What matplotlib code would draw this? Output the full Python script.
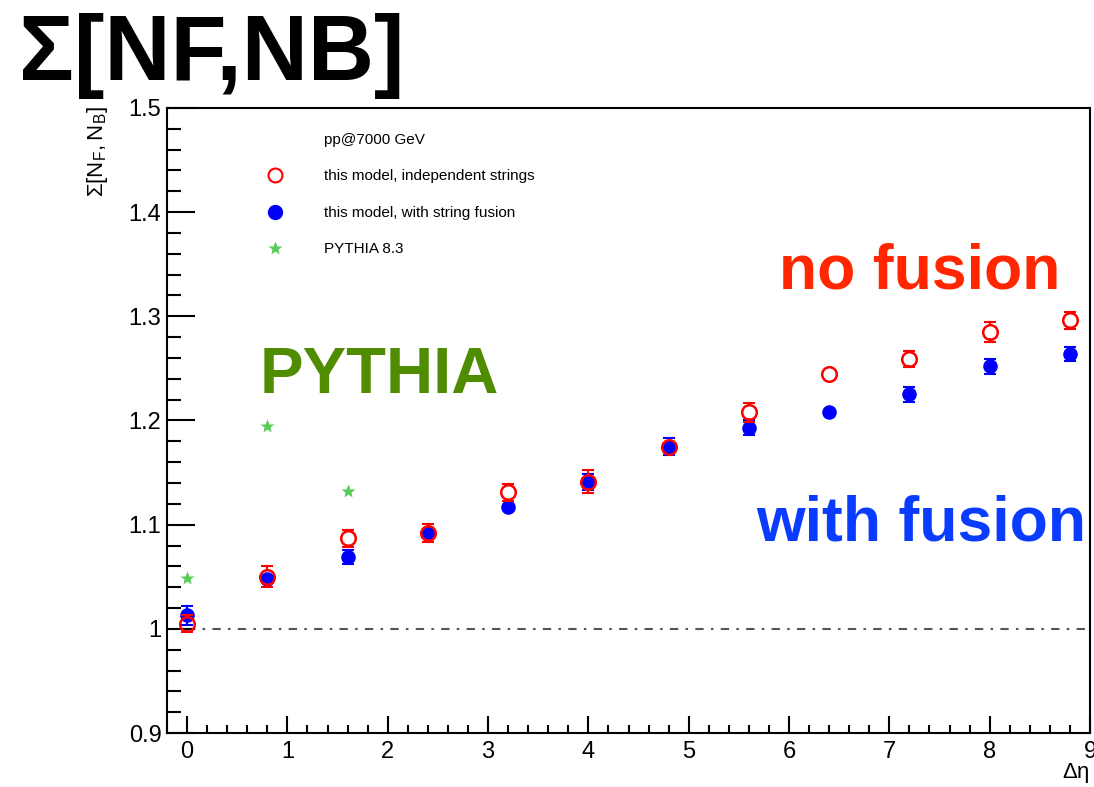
import matplotlib as mpl
mpl.use('Agg')
import matplotlib.pyplot as plt
from matplotlib.lines import Line2D
from matplotlib.ticker import MultipleLocator

plt.rcParams['font.family'] = ['Liberation Sans', 'DejaVu Sans']
plt.rcParams['mathtext.default'] = 'regular'

# data
deta = [0.0, 0.8, 1.6, 2.4, 3.2, 4.0, 4.8, 5.6, 6.4, 7.2, 8.0, 8.8]
indep = [1.005, 1.050, 1.087, 1.092, 1.131, 1.141, 1.175, 1.208, 1.245, 1.259, 1.285, 1.296]
indep_err = [0.008, 0.010, 0.008, 0.009, 0.008, 0.011, 0.006, 0.009, 0.004, 0.008, 0.010, 0.008]
fusion = [1.013, 1.048, 1.069, 1.092, 1.117, 1.141, 1.175, 1.193, 1.208, 1.225, 1.252, 1.264]
fusion_err = [0.009, 0.006, 0.007, 0.006, 0.006, 0.008, 0.008, 0.007, 0.004, 0.007, 0.007, 0.007]
pythia_x = [0.0, 0.8, 1.6]
pythia = [1.049, 1.195, 1.132]

W, H, DPI = 10.94, 7.87, 100
MS = 10.5  # marker size in points

fig = plt.figure(figsize=(W, H), dpi=DPI)
ax_box = [0.1527, 0.0686, 0.9963 - 0.1527, 0.8628 - 0.0686]
ax = fig.add_axes(ax_box)
ylo, yhi = 0.9, 1.5


def marker_gap_errorbars(x, y, err, color, zorder):
    # ROOT style: error bar only outside the marker
    px_per_unit = ax_box[3] * H * DPI / (yhi - ylo)
    r = (MS / 2) * DPI / 72 / px_per_unit
    for xi, yi, ei in zip(x, y, err):
        if ei <= r:
            continue
        ax.plot([xi, xi], [yi + r, yi + ei], color=color, lw=1.5, zorder=zorder)
        ax.plot([xi, xi], [yi - ei, yi - r], color=color, lw=1.5, zorder=zorder)
        ax.plot([xi, xi], [yi + ei, yi - ei], ls='none', marker='_', ms=8,
                mew=1.5, color=color, zorder=zorder)


# reference line at 1
ax.plot([0, 9], [1, 1], color='#555555', lw=1.5, ls=(0, (4, 3.5, 1.2, 3.5)), zorder=1)

marker_gap_errorbars(deta, fusion, fusion_err, 'blue', 3)
ax.plot(deta, fusion, 'o', color='blue', ms=MS, mec='none', zorder=3)
marker_gap_errorbars(deta, indep, indep_err, 'red', 4)
ax.plot(deta, indep, 'o', mfc='none', mec='red', mew=1.8, ms=MS, zorder=4)
ax.plot(pythia_x, pythia, '*', color='#55cc55', ms=10, mec='none', zorder=3)

ax.set_xlim(-0.2, 9)
ax.set_ylim(ylo, yhi)
ax.xaxis.set_major_locator(MultipleLocator(1))
ax.xaxis.set_minor_locator(MultipleLocator(0.2))
ax.yaxis.set_minor_locator(MultipleLocator(0.02))
ax.set_yticks([0.9, 1.0, 1.1, 1.2, 1.3, 1.4, 1.5])
ax.set_yticklabels(['0.9', '1', '1.1', '1.2', '1.3', '1.4', '1.5'])
ax.tick_params(axis='both', which='both', direction='in', labelsize=17, width=1.5)
ax.tick_params(axis='y', which='major', length=20, pad=4)
ax.tick_params(axis='y', which='minor', length=10)
ax.tick_params(axis='x', which='major', length=12, pad=6)
ax.tick_params(axis='x', which='minor', length=6)
for s in ax.spines.values():
    s.set_linewidth(1.5)

ax.text(1.0, -0.044, r'$\Delta\eta$', transform=ax.transAxes, ha='right', va='top', fontsize=16)
fig.text(97 / W / DPI, 1 - 106 / H / DPI, r'$\Sigma[N_F,N_B]$', rotation=90,
         ha='center', va='top', fontsize=16)

# big labels
fig.text(19 / W / DPI, 1 - 80 / H / DPI, 'Σ[NF,NB]', fontsize=66, fontweight='bold',
         ha='left', va='baseline')
ax.text(5.9, 1.327, 'no fusion', color='#ff2600', fontsize=45, fontweight='bold')
ax.text(0.72, 1.226, 'PYTHIA', color='#4f8c00', fontsize=47, fontweight='bold')
ax.text(5.67, 1.085, 'with fusion', color='#0a3cff', fontsize=45, fontweight='bold')

handles = [
    Line2D([], [], ls='none', marker=None),
    Line2D([], [], ls='none', marker='o', mfc='none', mec='red', mew=1.5, ms=10),
    Line2D([], [], ls='none', marker='o', color='blue', ms=10),
    Line2D([], [], ls='none', marker='*', color='#55cc55', mec='none', ms=10),
]
labels = ['pp@7000 GeV', 'this model, independent strings',
          'this model, with string fusion', 'PYTHIA 8.3']
ax.legend(handles, labels, loc='upper left', bbox_to_anchor=(0.094, 0.982), frameon=False,
          fontsize=11, handlelength=1.0, handletextpad=2.7, labelspacing=1.47)

plt.savefig('out.png')
plt.close()
